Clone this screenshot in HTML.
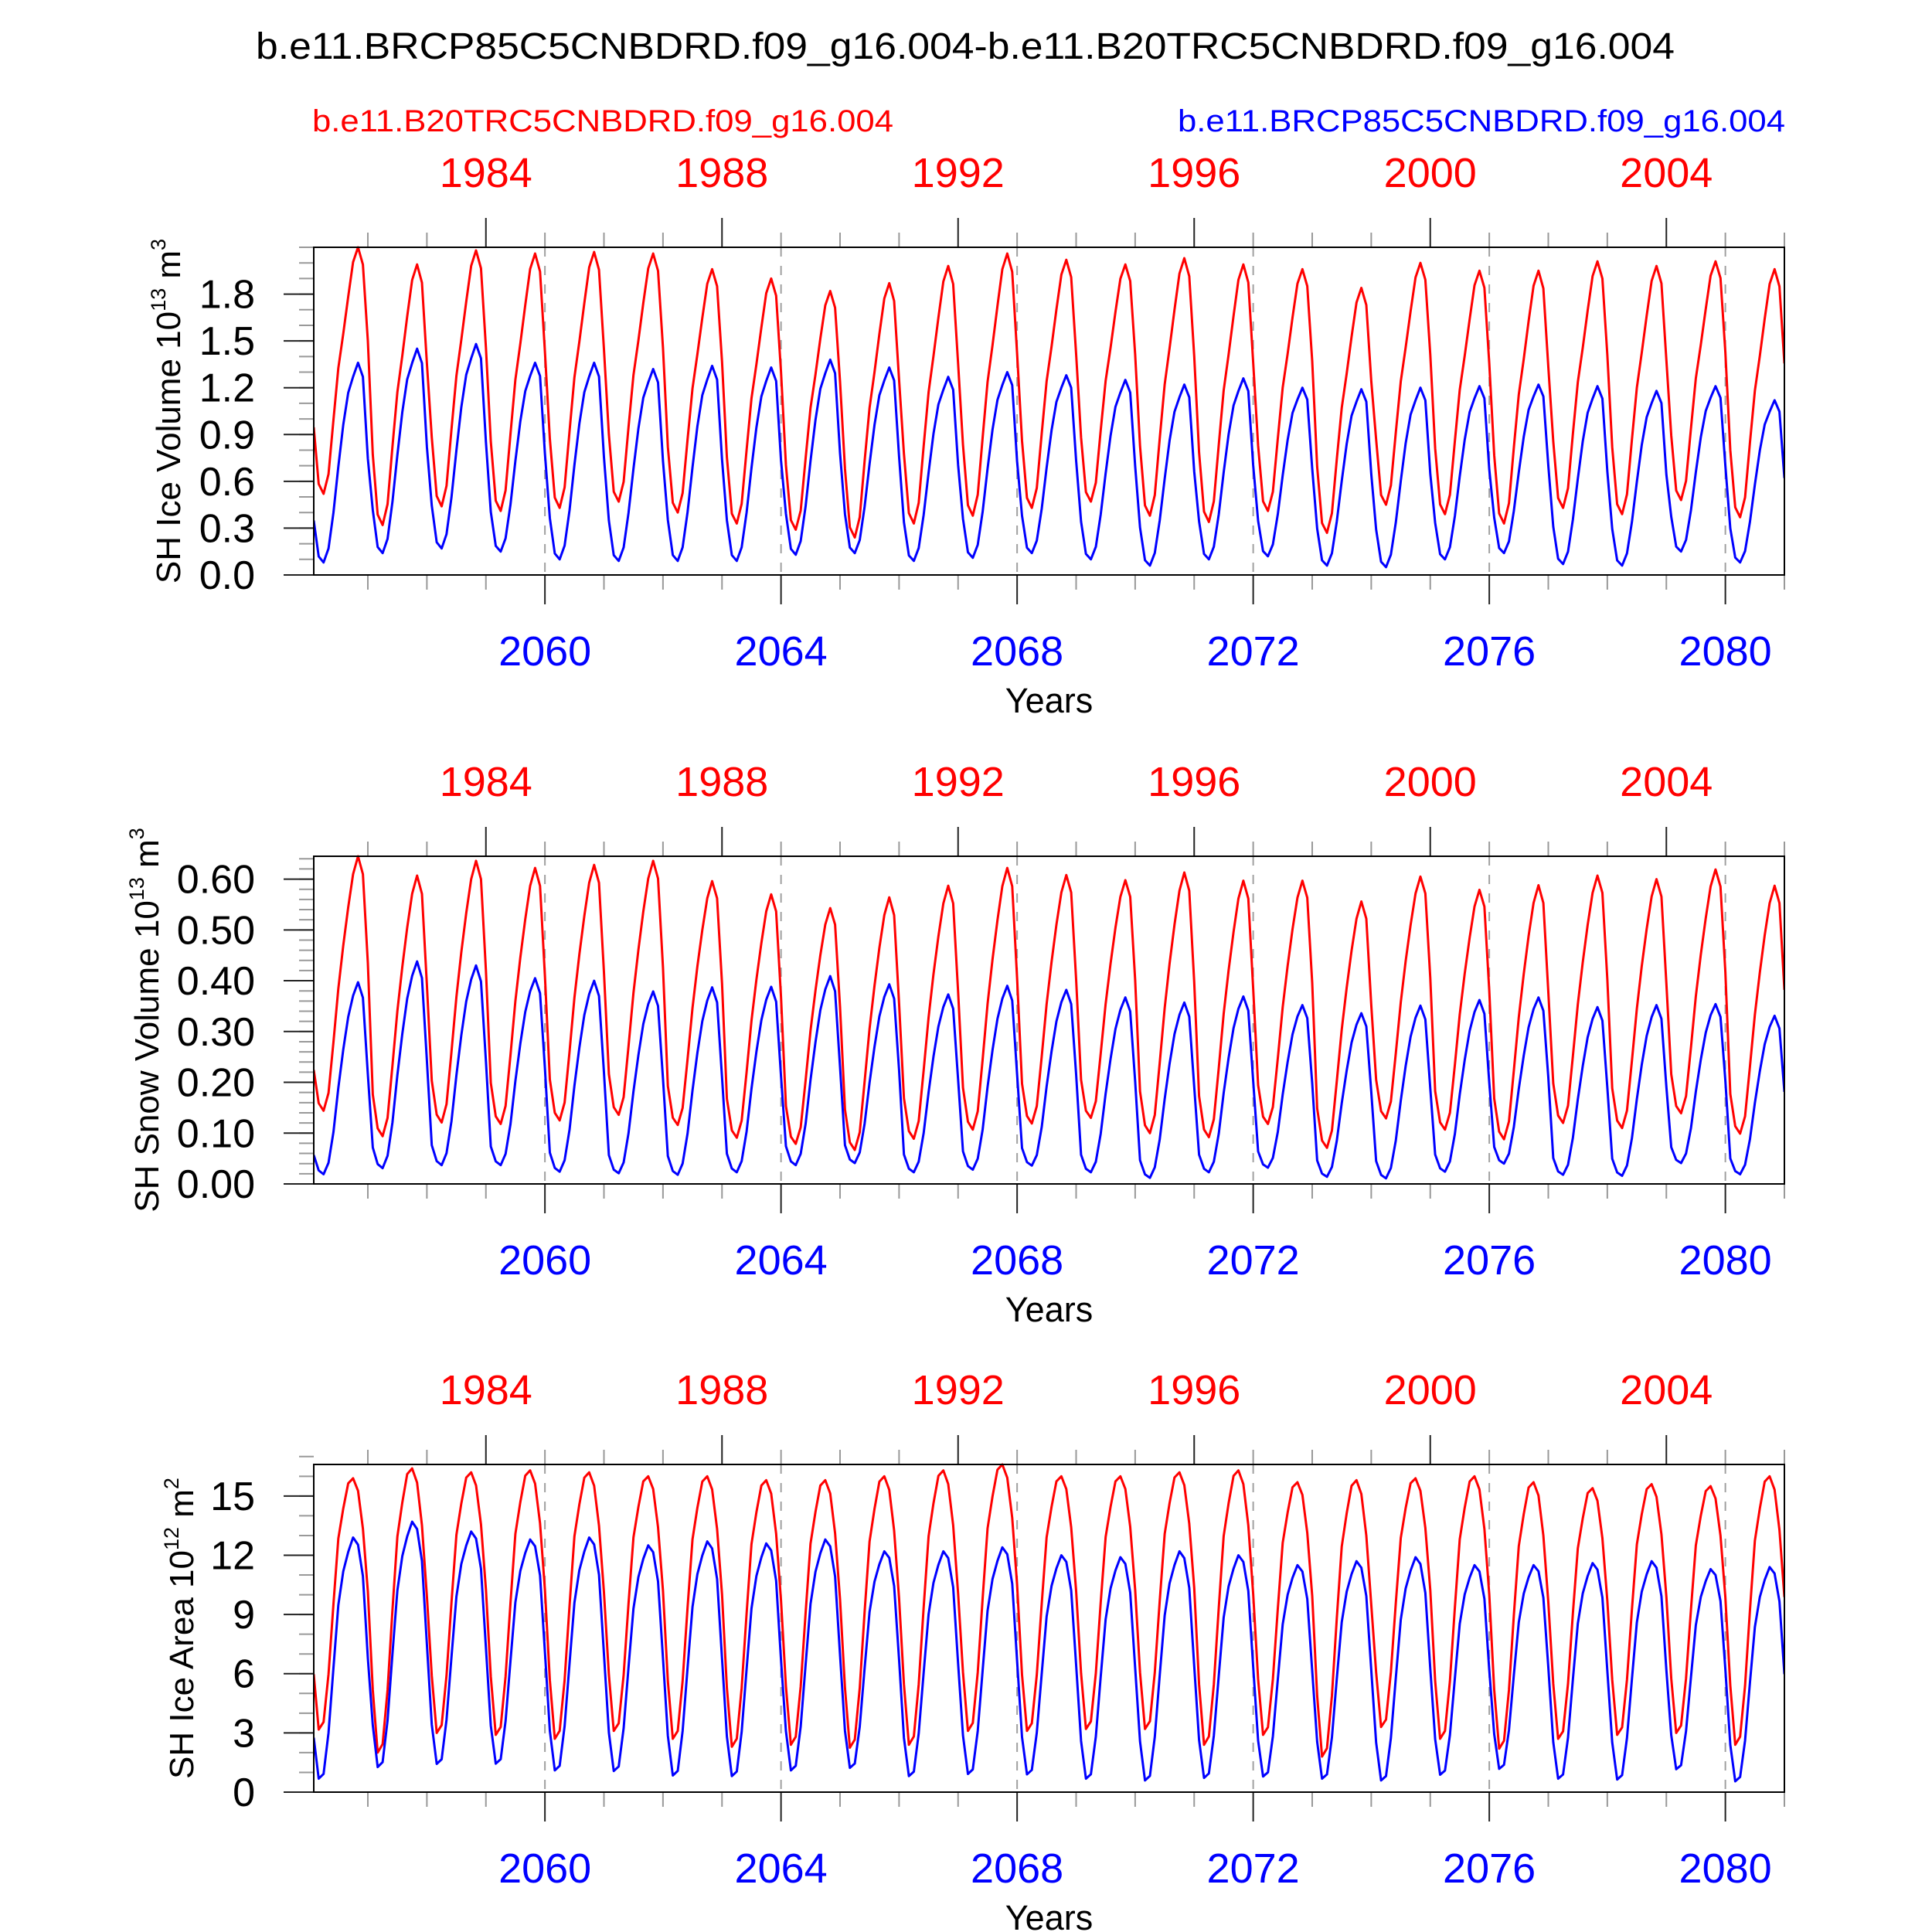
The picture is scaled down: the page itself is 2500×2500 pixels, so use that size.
<!DOCTYPE html>
<html><head><meta charset="utf-8"><style>
html,body{margin:0;padding:0;background:#fff;}
svg{display:block;font-family:"Liberation Sans",Arial,sans-serif;}
</style></head><body>
<svg id="chart" width="2500" height="2500" viewBox="0 0 2500 2500" xmlns="http://www.w3.org/2000/svg">
<rect x="0" y="0" width="2500" height="2500" fill="#fff"/>
<text x="1249" y="76" font-size="48" text-anchor="middle" textLength="1836" lengthAdjust="spacingAndGlyphs">b.e11.BRCP85C5CNBDRD.f09_g16.004-b.e11.B20TRC5CNBDRD.f09_g16.004</text>
<text x="404" y="170" font-size="40" fill="#ff0000" textLength="752" lengthAdjust="spacingAndGlyphs">b.e11.B20TRC5CNBDRD.f09_g16.004</text>
<text x="2310" y="170" font-size="40" fill="#0000ff" text-anchor="end" textLength="786" lengthAdjust="spacingAndGlyphs">b.e11.BRCP85C5CNBDRD.f09_g16.004</text>
<g id="panels"></g>
</svg>
<script>
// ---- data: per-year (2056..2080) seasonal peak and trough values ----
const years = [2056,2057,2058,2059,2060,2061,2062,2063,2064,2065,2066,2067,2068,2069,2070,2071,2072,2073,2074,2075,2076,2077,2078,2079,2080];
const blueTickLabels = ["2060","2064","2068","2072","2076","2080"];
const redTickLabels = ["1984","1988","1992","1996","2000","2004"];

const iceVolRedPeak = [2.10,1.99,2.08,2.06,2.07,2.06,1.96,1.90,1.82,1.87,1.98,2.06,2.02,1.99,2.03,1.99,1.96,1.84,2.00,1.95,1.95,2.01,1.98,2.01,1.96];
const iceVolRedTrough = [0.52,0.32,0.44,0.41,0.43,0.47,0.40,0.33,0.29,0.24,0.33,0.38,0.43,0.47,0.38,0.34,0.41,0.27,0.45,0.39,0.33,0.43,0.39,0.48,0.37];
const iceVolBluePeak = [1.36,1.45,1.48,1.36,1.36,1.32,1.34,1.33,1.38,1.33,1.27,1.30,1.28,1.25,1.22,1.26,1.20,1.19,1.20,1.21,1.22,1.21,1.18,1.21,1.12];
const iceVolBlueTrough = [0.08,0.14,0.17,0.15,0.10,0.09,0.09,0.09,0.13,0.14,0.09,0.11,0.14,0.10,0.06,0.10,0.12,0.06,0.05,0.10,0.14,0.07,0.06,0.15,0.08];

const snowRedPeak = [0.645,0.607,0.636,0.622,0.628,0.636,0.596,0.570,0.543,0.564,0.587,0.622,0.608,0.598,0.613,0.597,0.597,0.556,0.605,0.579,0.588,0.607,0.600,0.619,0.587];
const snowRedTrough = [0.144,0.094,0.121,0.118,0.125,0.136,0.116,0.091,0.079,0.067,0.089,0.107,0.119,0.130,0.100,0.092,0.118,0.071,0.129,0.107,0.088,0.120,0.110,0.139,0.099];
const snowBluePeak = [0.397,0.438,0.430,0.405,0.400,0.379,0.387,0.388,0.409,0.393,0.373,0.390,0.382,0.367,0.357,0.369,0.352,0.336,0.351,0.362,0.367,0.348,0.352,0.354,0.331];
const snowBlueTrough = [0.019,0.031,0.037,0.037,0.024,0.021,0.018,0.023,0.037,0.041,0.023,0.028,0.036,0.023,0.012,0.023,0.032,0.014,0.011,0.024,0.040,0.018,0.016,0.041,0.019];

const areaRedPeak = [15.9,16.4,16.2,16.3,16.2,16.0,16.0,15.8,15.8,16.0,16.3,16.6,16.0,16.0,16.2,16.3,15.7,15.8,15.9,16.0,15.7,15.4,15.6,15.5,16.0];
const areaRedTrough = [3.17,2.0,3.0,2.9,2.7,3.1,2.7,2.3,2.4,2.25,2.4,3.1,3.1,3.2,3.2,2.4,2.9,1.8,3.3,2.7,2.2,2.7,2.9,3.0,2.4];
const areaBluePeak = [12.9,13.7,13.2,12.8,12.9,12.5,12.7,12.6,12.8,12.2,12.2,12.4,12.0,11.9,12.2,12.0,11.5,11.7,11.9,11.5,11.5,11.6,11.7,11.3,11.4];
const areaBlueTrough = [0.68,1.27,1.43,1.44,1.1,1.07,0.84,0.81,1.1,1.23,0.81,0.92,0.90,0.68,0.59,0.72,0.79,0.68,0.59,0.88,1.18,0.68,0.64,1.16,0.55];

// monthly climatological shape (Jan..Dec), fraction of trough->peak range
const volShapeRed = [0.27,0.04,0,0.08,0.30,0.51,0.65,0.80,0.94,1,0.93,0.62];
const volShapeBlue = [0.21,0.03,0,0.07,0.25,0.48,0.69,0.85,0.93,1,0.93,0.52];
const snowShapeRed = [0.16,0.03,0,0.07,0.27,0.48,0.65,0.80,0.93,1,0.93,0.58];
const snowShapeBlue = [0.10,0.02,0,0.06,0.22,0.45,0.65,0.82,0.93,1,0.92,0.52];
const areaShapeRed = [0.22,0,0.03,0.22,0.50,0.76,0.88,0.98,1,0.95,0.80,0.55];
const areaShapeBlue = [0.17,0,0.02,0.19,0.46,0.72,0.86,0.94,1,0.97,0.84,0.50];

const volTicks = ["0.0","0.3","0.6","0.9","1.2","1.5","1.8"];
const snowTicks = ["0.00","0.10","0.20","0.30","0.40","0.50","0.60"];
const areaTicks = ["0","3","6","9","12","15"];

// ---- layout ----
const NS = "http://www.w3.org/2000/svg";
const X0 = 406, X1 = 2309, T0 = 2056 + 1/12, T1 = 2081.0, H = 424;
function xs(t){ return X0 + (t - T0) / (T1 - T0) * (X1 - X0); }
function mk(tag, attrs, parent){ const e = document.createElementNS(NS, tag); for (const k in attrs) e.setAttribute(k, attrs[k]); parent.appendChild(e); return e; }

function monthly(peak, trough, shape){
  const out = [];
  for (let y = 0; y < years.length; y++)
    for (let m = 0; m < 12; m++) out.push(trough[y] + shape[m] * (peak[y] - trough[y]));
  return out;
}

const panels = [
  {top:320, ymax:2.1, ticks:volTicks, minor:0.1, title:["SH Ice Volume 10","13"," m","3"], tx:233,
   red:monthly(iceVolRedPeak, iceVolRedTrough, volShapeRed), blue:monthly(iceVolBluePeak, iceVolBlueTrough, volShapeBlue), name:"ice-volume"},
  {top:1108, ymax:0.645, ticks:snowTicks, minor:0.02, title:["SH Snow Volume 10","13"," m","3"], tx:205,
   red:monthly(snowRedPeak, snowRedTrough, snowShapeRed), blue:monthly(snowBluePeak, snowBlueTrough, snowShapeBlue), name:"snow-volume"},
  {top:1895, ymax:16.6, ticks:areaTicks, minor:1, title:["SH Ice Area 10","12"," m","2"], tx:250,
   red:monthly(areaRedPeak, areaRedTrough, areaShapeRed), blue:monthly(areaBluePeak, areaBlueTrough, areaShapeBlue), name:"ice-area"}
];

const root = document.getElementById('panels');
panels.forEach((p, pi) => {
  const g = mk('g', {}, root);
  
  
  const bot = p.top + H;
  const ys = v => bot - v / p.ymax * H;
  const cid = 'clip' + pi;
  const cp = mk('clipPath', {id: cid}, g);
  mk('rect', {x: X0, y: p.top - 2, width: X1 - X0, height: H + 4}, cp);

  for (let yr = 2060; yr <= 2080; yr += 4) {
    const l = mk('line', {x1: xs(yr), x2: xs(yr), y1: p.top, y2: bot, stroke: '#a0a0a0', 'stroke-width': 2, 'stroke-dasharray': '12 12'}, g);
    
    
  }
  for (let yr = 2057; yr <= 2081; yr++) {
    const x = xs(yr);
    const majorB = (yr % 4 === 0 && yr <= 2080);
    const majorT = ((yr - 75) % 4 === 0 && yr <= 2080);
    const tb = mk('line', {x1: x, x2: x, y1: bot, y2: bot + (majorB ? 38 : 19), stroke: majorB ? '#222' : '#999', 'stroke-width': 2}, g);
    
    
    const tt = mk('line', {x1: x, x2: x, y1: p.top, y2: p.top - (majorT ? 38 : 19), stroke: majorT ? '#222' : '#999', 'stroke-width': 2}, g);
    
    
  }
  blueTickLabels.forEach(s => {
    const t = mk('text', {x: xs(+s), y: bot + 117, 'font-size': 54, fill: '#0000ff', 'text-anchor': 'middle'}, g);
    
    
    t.textContent = s;
  });
  redTickLabels.forEach(s => {
    const t = mk('text', {x: xs(+s + 75), y: p.top - 78, 'font-size': 54, fill: '#ff0000', 'text-anchor': 'middle'}, g);
    
    
    t.textContent = s;
  });
  const nMinor = Math.round(p.ymax / p.minor + 1e-6);
  for (let k = 0; k <= nMinor; k++) {
    const y = ys(k * p.minor);
    const m = mk('line', {x1: X0, x2: X0 - 19, y1: y, y2: y, stroke: '#999', 'stroke-width': 2}, g);
    
    
  }
  p.ticks.forEach(s => {
    const y = ys(parseFloat(s));
    const l = mk('line', {x1: X0, x2: X0 - 39, y1: y, y2: y, stroke: '#222', 'stroke-width': 2}, g);
    
    
    const t = mk('text', {x: 330, y: y + 18, 'font-size': 52, 'text-anchor': 'end'}, g);
    
    
    t.textContent = s;
  });
  [['red', '#ff0000'], ['blue', '#0000ff']].forEach(([key, col]) => {
    const vals = p[key];
    let d = '';
    vals.forEach((v, i) => { d += (i ? 'L' : 'M') + xs(2056 + (i + 1) / 12).toFixed(1) + ',' + ys(v).toFixed(1); });
    const path = mk('path', {d: d, fill: 'none', stroke: col, 'stroke-width': 3, 'stroke-linejoin': 'round', 'clip-path': 'url(#' + cid + ')'}, g);
    
    
  });
  const fr = mk('rect', {x: X0, y: p.top, width: X1 - X0, height: H, fill: 'none', stroke: '#000', 'stroke-width': 2}, g);
  
  
  const cy = p.top + H / 2;
  const tt = mk('text', {x: p.tx, y: cy, 'font-size': 44, 'text-anchor': 'middle', transform: 'rotate(-90 ' + p.tx + ' ' + cy + ')'}, g);
  
  
  const s1 = mk('tspan', {}, tt); s1.textContent = p.title[0];
  const s2 = mk('tspan', {dy: -19, 'font-size': 27}, tt); s2.textContent = p.title[1];
  const s3 = mk('tspan', {dy: 19}, tt); s3.textContent = p.title[2];
  const s4 = mk('tspan', {dy: -19, 'font-size': 27}, tt); s4.textContent = p.title[3];
  const xt = mk('text', {x: (X0 + X1) / 2, y: bot + 178, 'font-size': 45, 'text-anchor': 'middle'}, g);
  
  
  xt.textContent = 'Years';
});
</script>
</body></html>
